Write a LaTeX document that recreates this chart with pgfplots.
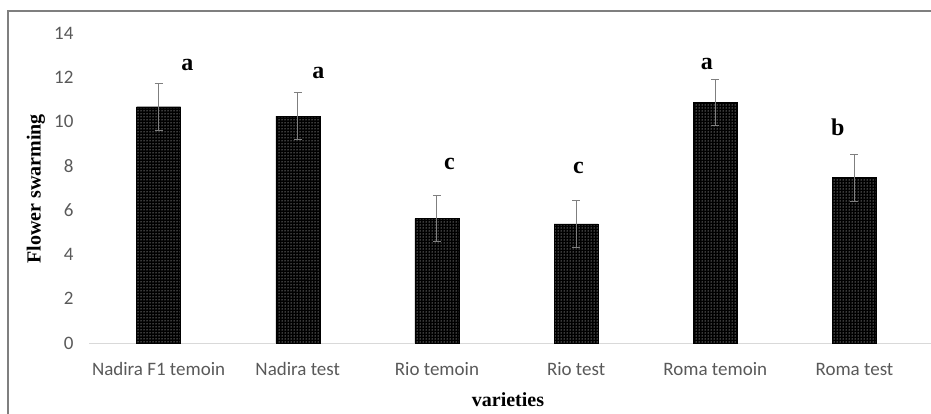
\documentclass[border=0pt]{standalone}
\usepackage{pgfplots}
\pgfplotsset{compat=1.18}
\usepackage{fontspec}
\setmainfont{Liberation Serif}
\newfontfamily\carlito{Carlito}
\usetikzlibrary{patterns}
\definecolor{tickgray}{HTML}{595959}
\definecolor{axgray}{HTML}{D9D9D9}
\definecolor{errgray}{HTML}{7F7F7F}
\definecolor{framegray}{HTML}{7F7F7F}
\pgfplotstableread{
x y e
0 10.67 1.07
1 10.25 1.06
2 5.62 1.05
3 5.38 1.05
4 10.87 1.05
5 7.47 1.06
}\datatable
\begin{document}
\begin{tikzpicture}[x=1pt,y=1pt]
\useasboundingbox (0,0) rectangle (931,414);
\draw[framegray, line width=1.5pt] (8,0) -- (8,403) -- (931,403);
\begin{axis}[
  at={(89pt,71pt)}, anchor=south west,
  scale only axis,
  width=842pt, height=310pt,
  xmin=-0.5, xmax=5.55,
  ymin=0, ymax=14,
  axis x line*=bottom,
  axis y line*=left,
  x axis line style={axgray, line width=0.8pt, -},
  y axis line style={draw=none},
  ytick={0,2,...,14},
  xtick=data,
  xticklabels={Nadira F1 temoin, Nadira test, Rio temoin, Rio test, Roma temoin, Roma test},
  major tick length=0pt,
  tick style={draw=none},
  ticklabel style={font=\carlito\fontsize{19}{21}\selectfont, text=tickgray},
  xticklabel style={anchor=base, yshift=-33pt},
  yticklabel style={xshift=-12pt},
  /pgf/number format/assume math mode=true,
  clip=false,
]
\addplot[ybar, bar width=44pt, fill=black, draw=black,
  postaction={pattern=dots, pattern color=white},
  error bars/.cd, y dir=both, y explicit,
  error bar style={errgray, line width=0.9pt},
  error mark options={rotate=90, errgray, mark size=4pt, line width=0.9pt}]
  table[x=x, y=y, y error=e] {\datatable};
\pgfplotsextra{
\begin{scope}[every node/.style={font=\bfseries\fontsize{24}{24}\selectfont, inner sep=0pt}]
\node at (axis cs:0.207,12.55) {a};
\node at (axis cs:1.148,12.2) {a};
\node at (axis cs:2.09,8.08) {c};
\node at (axis cs:3.017,7.9) {c};
\node at (axis cs:3.94,12.6) {a};
\node at (axis cs:4.88,9.75) {b};
\end{scope}
}
\end{axis}
\node[font=\bfseries\fontsize{20}{20}\selectfont, inner sep=0pt] at (508,14) {varieties};
\node[font=\bfseries\fontsize{20}{20}\selectfont, inner sep=0pt, rotate=90] at (36,225) {Flower swarming};
\end{tikzpicture}
\end{document}
